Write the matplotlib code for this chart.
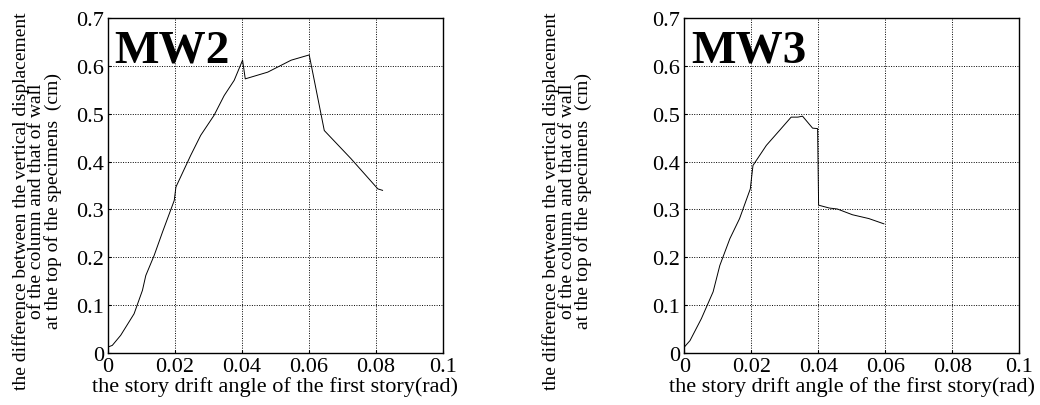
import matplotlib.pyplot as plt

plt.rcParams['font.family'] = ['Liberation Serif', 'DejaVu Serif']

# MW2 data
mw2_x = [0.0, 0.0013, 0.0038, 0.0078, 0.0103, 0.0113, 0.0138, 0.0163, 0.0198, 0.0203,
         0.0247, 0.0277, 0.0317, 0.0347, 0.0377, 0.0402, 0.041, 0.0477, 0.0547, 0.0601,
         0.0646, 0.0726, 0.0806, 0.082]
mw2_y = [0.0125, 0.016, 0.037, 0.082, 0.131, 0.162, 0.204, 0.253, 0.319, 0.347,
         0.413, 0.455, 0.497, 0.538, 0.570, 0.612, 0.573, 0.587, 0.612, 0.623,
         0.465, 0.406, 0.343, 0.340]

# MW3 data
mw3_x = [0.0, 0.0017, 0.0051, 0.0086, 0.0106, 0.0136, 0.0165, 0.0197, 0.0205, 0.0245,
         0.0284, 0.0319, 0.0339, 0.0353, 0.0383, 0.0398, 0.0401, 0.0433, 0.0457, 0.0502,
         0.0551, 0.0596]
mw3_y = [0.0125, 0.026, 0.072, 0.128, 0.183, 0.239, 0.281, 0.343, 0.392, 0.434,
         0.465, 0.493, 0.493, 0.495, 0.470, 0.469, 0.309, 0.303, 0.301, 0.289,
         0.281, 0.270]

xticks = [0, 0.02, 0.04, 0.06, 0.08, 0.1]
xtick_labels = ['0', '0.02', '0.04', '0.06', '0.08', '0.1']
yticks = [0, 0.1, 0.2, 0.3, 0.4, 0.5, 0.6, 0.7]
ytick_labels = ['0', '0.1', '0.2', '0.3', '0.4', '0.5', '0.6', '0.7']

ylabel = ('the difference between the vertical displacement\n'
          'of the column and that of wall\n'
          'at the top of the specimens  (cm)')
xlabel = 'the story drift angle of the first story(rad)'

fig = plt.figure(figsize=(10.4, 4.06), dpi=100)

panels = [(0.1038, mw2_x, mw2_y, 'MW2', 0.0355),
          (0.658, mw3_x, mw3_y, 'MW3', 0.5455)]

for left, xs, ys, name, ylab_x in panels:
    ax = fig.add_axes([left, 0.128, 0.322, 0.825])
    ax.plot(xs, ys, color='black', linewidth=0.7)
    ax.set_xlim(0, 0.1)
    ax.set_ylim(0, 0.7)
    ax.set_xticks(xticks)
    ax.set_xticklabels(xtick_labels)
    ax.set_yticks(yticks)
    ax.set_yticklabels(ytick_labels)
    ax.tick_params(direction='in', length=2, labelsize=16)
    ax.tick_params(axis='x', pad=3)
    ax.tick_params(axis='y', pad=3)
    ax.grid(True, linestyle=(0, (1, 1.5)), color='black', linewidth=0.7)
    for s in ax.spines.values():
        s.set_linewidth(1.0)
    ax.set_xlabel(xlabel, fontsize=16, labelpad=0)
    ax.text(0.02, 0.965, name, transform=ax.transAxes, fontsize=34,
            fontweight='bold', va='top', ha='left')
    fig.text(ylab_x, 0.505, ylabel, rotation=90, ha='center', va='center',
             fontsize=14, linespacing=0.9)

plt.savefig('out.png', dpi=100)
